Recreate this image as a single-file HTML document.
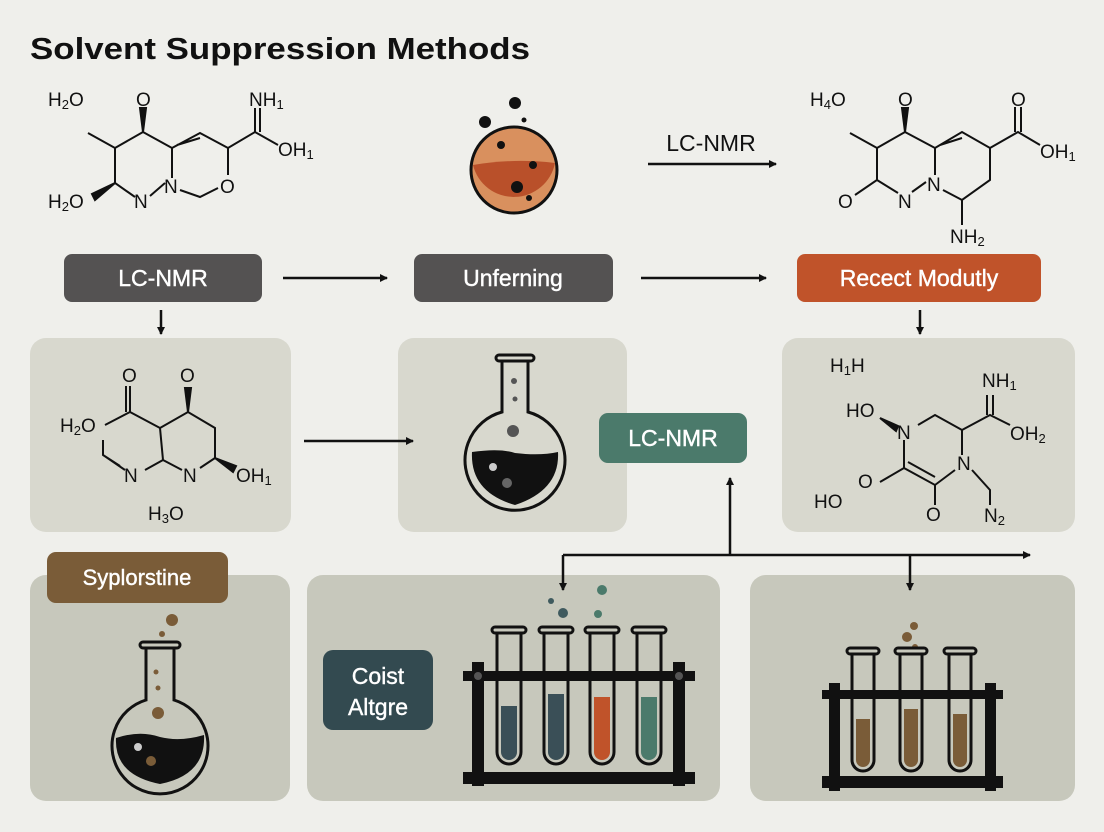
<!DOCTYPE html>
<html><head><meta charset="utf-8"><style>
html,body{margin:0;padding:0;background:#efefeb;}
svg{display:block;}
text{font-family:"Liberation Sans",sans-serif;}
</style></head><body>
<svg width="1104" height="832" viewBox="0 0 1104 832" xmlns="http://www.w3.org/2000/svg">
<defs>
<marker id="ah" markerWidth="8" markerHeight="8" refX="7" refY="4" orient="auto" markerUnits="userSpaceOnUse"><path d="M0,0 L8,4 L0,8 z" fill="#111"/></marker>
</defs>
<rect width="1104" height="832" fill="#efefeb"/>
<text x="30" y="59" font-size="31" font-weight="bold" fill="#111" textLength="500" lengthAdjust="spacingAndGlyphs">Solvent Suppression Methods</text>

<!-- panels -->
<rect x="30" y="338" width="261" height="194" rx="16" fill="#d8d8ce"/>
<rect x="398" y="338" width="229" height="194" rx="16" fill="#d8d8ce"/>
<rect x="782" y="338" width="293" height="194" rx="16" fill="#d8d8ce"/>
<rect x="30" y="575" width="260" height="226" rx="16" fill="#c7c8bc"/>
<rect x="307" y="575" width="413" height="226" rx="16" fill="#c7c8bc"/>
<rect x="750" y="575" width="325" height="226" rx="16" fill="#c7c8bc"/>

<!-- labeled boxes -->
<rect x="64" y="254" width="198" height="48" rx="8" fill="#545252"/>
<text x="163" y="286" font-size="23" fill="#fff" text-anchor="middle" stroke="#fff" stroke-width="0.4">LC-NMR</text>
<rect x="414" y="254" width="199" height="48" rx="8" fill="#545252"/>
<text x="513" y="286" font-size="23" fill="#fff" text-anchor="middle" stroke="#fff" stroke-width="0.4">Unferning</text>
<rect x="797" y="254" width="244" height="48" rx="8" fill="#c0532a"/>
<text x="919" y="286" font-size="23" fill="#fff" text-anchor="middle" stroke="#fff" stroke-width="0.4">Recect Modutly</text>
<rect x="599" y="413" width="148" height="50" rx="9" fill="#4b7a6b"/>
<text x="673" y="446" font-size="23" fill="#fff" text-anchor="middle" stroke="#fff" stroke-width="0.4">LC-NMR</text>
<rect x="47" y="552" width="181" height="51" rx="9" fill="#7a5c38"/>
<text x="137" y="585" font-size="22" fill="#fff" text-anchor="middle" stroke="#fff" stroke-width="0.4">Syplorstine</text>
<rect x="323" y="650" width="110" height="80" rx="10" fill="#334a50"/>
<text x="378" y="684" font-size="23" fill="#fff" text-anchor="middle" stroke="#fff" stroke-width="0.4">Coist</text>
<text x="378" y="715" font-size="23" fill="#fff" text-anchor="middle" stroke="#fff" stroke-width="0.4">Altgre</text>

<!-- arrows -->
<g stroke="#111" stroke-width="2.5" fill="none" marker-end="url(#ah)">
<line x1="283" y1="278" x2="387" y2="278"/>
<line x1="641" y1="278" x2="766" y2="278"/>
<line x1="648" y1="164" x2="776" y2="164"/>
<line x1="161" y1="310" x2="161" y2="334"/>
<line x1="920" y1="310" x2="920" y2="334"/>
<line x1="304" y1="441" x2="413" y2="441"/>
<line x1="730" y1="555" x2="730" y2="478"/>
<line x1="563" y1="555" x2="1030" y2="555"/>
<polyline points="563,555 563,590"/>
<line x1="910" y1="555" x2="910" y2="590"/>
</g>
<text x="711" y="151" font-size="23" fill="#111" text-anchor="middle">LC-NMR</text>

<!-- molecules -->
<g stroke="#111" stroke-width="2" fill="none">
<path d="M88,133 L115,148 L143,132 L172,148 L200,133 L228,148 L255,132 L278,145 M255,132 L255,108 M260,132 L260,108 M115,148 L115,183 L135,197 M150,196 L165,183 M172,148 L172,178 M180,190 L200,197 L218,188 M228,148 L228,175 M177,145 L200,138"/>
<path d="M143,132 L140,108 L146,108 Z M115,183 L92,194 L95,200 Z" fill="#111"/>
<path d="M850,133 L877,148 L905,132 L935,148 L962,132 L990,148 L1018,132 L1040,145 M1015,132 L1015,107 M1021,132 L1021,107 M877,148 L877,180 L855,195 M877,180 L898,193 M912,192 L926,182 M935,148 L935,175 M943,190 L962,200 L990,180 L990,148 M962,200 L962,225 M940,145 L962,138"/>
<path d="M905,132 L902,108 L908,108 Z" fill="#111"/>
<path d="M130,386 L130,412 M126,386 L126,412 M130,412 L105,425 M130,412 L160,428 L188,412 L215,428 L215,458 M215,458 L200,468 M182,470 L163,460 L160,428 M163,460 L145,470 M125,470 L103,455 L103,440 M120,466 L103,455"/>
<path d="M188,412 L185,388 L191,388 Z M215,458 L236,466 L233,472 Z" fill="#111"/>
<path d="M918,425 L935,415 L962,430 L990,415 L1010,425 M987,415 L987,395 M993,415 L993,395 M962,430 L962,455 M904,440 L904,468 L935,485 L955,470 M908,462 L935,477 M904,468 L880,482 M935,485 L935,505 M972,470 L990,490 L990,505"/>
<path d="M880,418 L898,426 L896,431 Z" fill="#111"/>
</g>
<g font-size="19" fill="#111">
<text x="48" y="106">H<tspan font-size="13" dy="3">2</tspan><tspan dy="-3">O</tspan></text>
<text x="136" y="106">O</text>
<text x="249" y="106">NH<tspan font-size="13" dy="3">1</tspan></text>
<text x="278" y="156">OH<tspan font-size="13" dy="3">1</tspan></text>
<text x="48" y="208">H<tspan font-size="13" dy="3">2</tspan><tspan dy="-3">O</tspan></text>
<text x="134" y="208">N</text>
<text x="164" y="193">N</text>
<text x="220" y="193">O</text>
<text x="810" y="106">H<tspan font-size="13" dy="3">4</tspan><tspan dy="-3">O</tspan></text>
<text x="898" y="106">O</text>
<text x="1011" y="106">O</text>
<text x="1040" y="158">OH<tspan font-size="13" dy="3">1</tspan></text>
<text x="838" y="208">O</text>
<text x="898" y="208">N</text>
<text x="927" y="191">N</text>
<text x="950" y="243">NH<tspan font-size="13" dy="3">2</tspan></text>
<text x="122" y="382">O</text>
<text x="180" y="382">O</text>
<text x="60" y="432">H<tspan font-size="13" dy="3">2</tspan><tspan dy="-3">O</tspan></text>
<text x="124" y="482">N</text>
<text x="183" y="482">N</text>
<text x="236" y="482">OH<tspan font-size="13" dy="3">1</tspan></text>
<text x="148" y="520">H<tspan font-size="13" dy="3">3</tspan><tspan dy="-3">O</tspan></text>
<text x="830" y="372">H<tspan font-size="13" dy="3">1</tspan><tspan dy="-3">H</tspan></text>
<text x="982" y="387">NH<tspan font-size="13" dy="3">1</tspan></text>
<text x="846" y="417">HO</text>
<text x="897" y="439">N</text>
<text x="1010" y="440">OH<tspan font-size="13" dy="3">2</tspan></text>
<text x="957" y="470">N</text>
<text x="858" y="488">O</text>
<text x="814" y="508">HO</text>
<text x="926" y="521">O</text>
<text x="984" y="522">N<tspan font-size="13" dy="3">2</tspan></text>
</g>

<!-- orange ball -->
<circle cx="485" cy="122" r="6" fill="#111"/>
<circle cx="515" cy="103" r="6" fill="#111"/>
<circle cx="524" cy="120" r="2.5" fill="#111"/>
<circle cx="514" cy="170" r="43" fill="#d9905e" stroke="#111" stroke-width="3"/>
<path d="M473,165 Q514,158 555,163 A42,42 0 0 1 473,165 Z" fill="#b9502a"/>
<circle cx="501" cy="145" r="4" fill="#111"/>
<circle cx="533" cy="165" r="4" fill="#111"/>
<circle cx="517" cy="187" r="6" fill="#111"/>
<circle cx="529" cy="198" r="3" fill="#111"/>

<!-- middle flask -->
<g stroke="#111" stroke-width="3">
<path d="M502,357 L502,412 A50,50 0 1 0 528,412 L528,357" fill="#d8d8ce"/>
<rect x="496" y="355" width="38" height="6" rx="3" fill="#d8d8ce"/>
</g>
<path d="M472,452 Q500,448 515,453 Q540,456 558,452 Q560,490 515,505 Q470,492 472,452 Z" fill="#111"/>
<circle cx="514" cy="381" r="3" fill="#555"/><circle cx="515" cy="399" r="2.5" fill="#555"/>
<circle cx="513" cy="431" r="6" fill="#555"/>
<circle cx="493" cy="467" r="4" fill="#ccc"/><circle cx="507" cy="483" r="5" fill="#666"/>

<!-- bottom-left flask -->
<circle cx="172" cy="620" r="6" fill="#7a5c38"/><circle cx="162" cy="634" r="3" fill="#7a5c38"/>
<g stroke="#111" stroke-width="3">
<path d="M146,648 L146,700 A48,48 0 1 0 174,700 L174,648" fill="#c7c8bc"/>
<rect x="140" y="642" width="40" height="6" rx="3" fill="#c7c8bc"/>
</g>
<path d="M116,738 Q140,730 160,737 Q180,742 204,735 Q206,775 160,784 Q114,775 116,738 Z" fill="#111"/>
<circle cx="156" cy="672" r="2.5" fill="#7a5c38"/><circle cx="158" cy="688" r="2.5" fill="#7a5c38"/>
<circle cx="158" cy="713" r="6" fill="#7a5c38"/>
<circle cx="138" cy="747" r="4" fill="#ccc"/><circle cx="151" cy="761" r="5" fill="#7a5c38"/>

<!-- middle rack -->
<circle cx="563" cy="613" r="5" fill="#3f5a5e"/><circle cx="551" cy="601" r="3" fill="#3f5a5e"/>
<circle cx="602" cy="590" r="5" fill="#4b7a6b"/><circle cx="598" cy="614" r="4" fill="#4b7a6b"/>
<g stroke="#111" stroke-width="3" fill="#c7c8bc">
<path d="M497,632 L497,752 A12,12 0 0 0 521,752 L521,632"/><rect x="492" y="627" width="34" height="6" rx="3"/>
<path d="M544,632 L544,752 A12,12 0 0 0 568,752 L568,632"/><rect x="539" y="627" width="34" height="6" rx="3"/>
<path d="M590,632 L590,752 A12,12 0 0 0 614,752 L614,632"/><rect x="585" y="627" width="34" height="6" rx="3"/>
<path d="M637,632 L637,752 A12,12 0 0 0 661,752 L661,632"/><rect x="632" y="627" width="34" height="6" rx="3"/>
</g>
<path d="M501,706 L517,706 L517,752 A8,8 0 0 1 501,752 Z" fill="#3a4f57"/>
<path d="M548,694 L564,694 L564,752 A8,8 0 0 1 548,752 Z" fill="#3a4f57"/>
<path d="M594,697 L610,697 L610,752 A8,8 0 0 1 594,752 Z" fill="#c0532a"/>
<path d="M641,697 L657,697 L657,752 A8,8 0 0 1 641,752 Z" fill="#4b7a6b"/>
<rect x="463" y="671" width="232" height="10" fill="#111"/>
<rect x="472" y="662" width="12" height="124" fill="#111"/>
<rect x="673" y="662" width="12" height="124" fill="#111"/>
<rect x="463" y="772" width="232" height="12" fill="#111"/>
<circle cx="478" cy="676" r="4" fill="#555"/><circle cx="679" cy="676" r="4" fill="#555"/>

<!-- right rack -->
<circle cx="914" cy="626" r="4" fill="#7a5c38"/><circle cx="907" cy="637" r="5" fill="#7a5c38"/><circle cx="915" cy="647" r="3" fill="#7a5c38"/>
<g stroke="#111" stroke-width="3" fill="#c7c8bc">
<path d="M852,653 L852,760 A11,11 0 0 0 874,760 L874,653"/><rect x="847" y="648" width="32" height="6" rx="3"/>
<path d="M900,653 L900,760 A11,11 0 0 0 922,760 L922,653"/><rect x="895" y="648" width="32" height="6" rx="3"/>
<path d="M949,653 L949,760 A11,11 0 0 0 971,760 L971,653"/><rect x="944" y="648" width="32" height="6" rx="3"/>
</g>
<path d="M856,719 L870,719 L870,760 A7,7 0 0 1 856,760 Z" fill="#7a5c38"/>
<path d="M904,709 L918,709 L918,760 A7,7 0 0 1 904,760 Z" fill="#7a5c38"/>
<path d="M953,714 L967,714 L967,760 A7,7 0 0 1 953,760 Z" fill="#7a5c38"/>
<rect x="822" y="690" width="181" height="9" fill="#111"/>
<rect x="829" y="683" width="11" height="108" fill="#111"/>
<rect x="985" y="683" width="11" height="108" fill="#111"/>
<rect x="822" y="776" width="181" height="12" fill="#111"/>
</svg>
</body></html>
